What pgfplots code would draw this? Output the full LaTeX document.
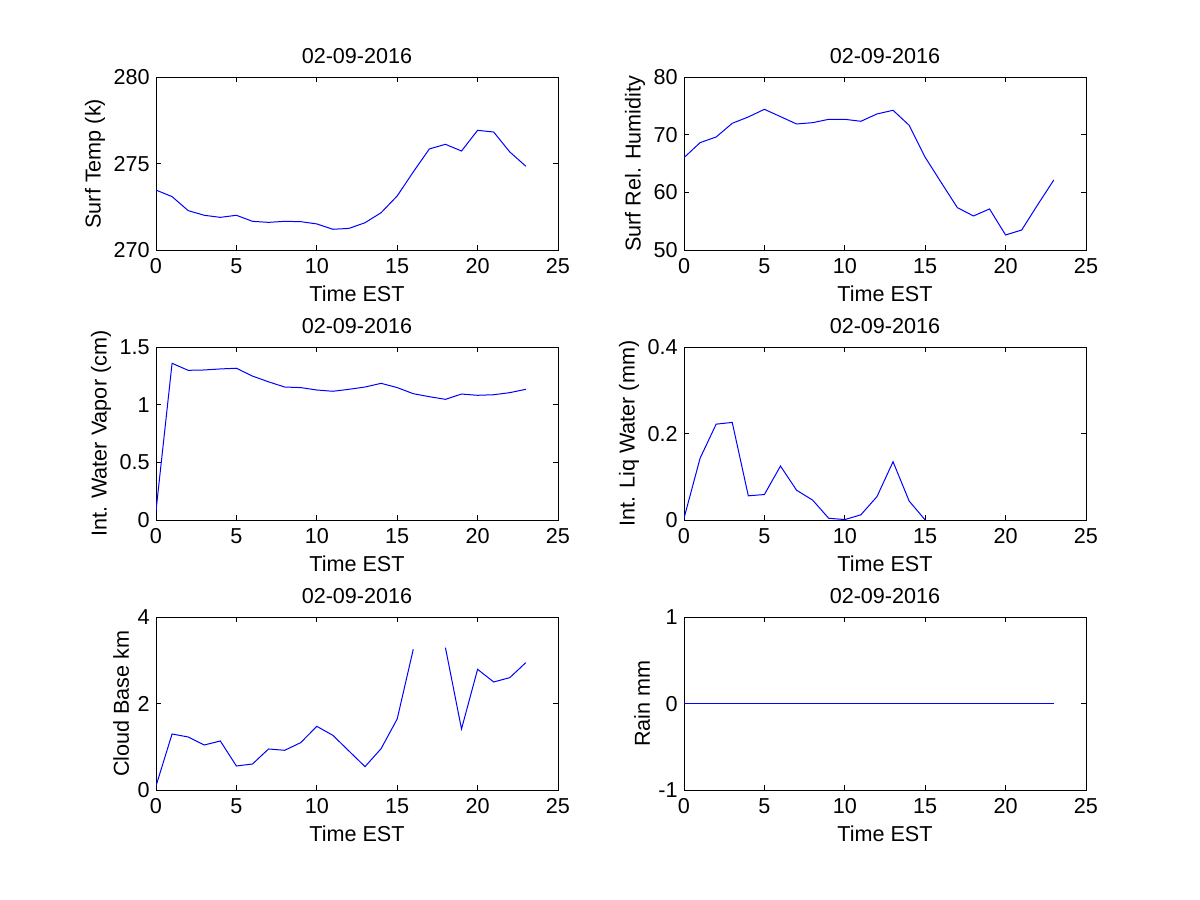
\documentclass[border=0pt]{standalone}
\usepackage{fontspec}
\setmainfont{Liberation Sans}
\usepackage{pgfplots}
\pgfplotsset{compat=1.18}
\pgfplotsset{panel/.style={
  scale only axis, width=201pt, height=86.35pt, anchor=south west,
  xmin=0, xmax=25, xtick={0,5,...,25},
  tick align=inside, major tick length=2.5pt,
  every tick/.style={black, line width=0.4pt},
  axis line style={line width=0.4pt},
  font=\fontsize{10.8}{12}\selectfont,
  /pgf/number format/assume math mode=true,
  /pgf/number format/fixed,
  title={02-09-2016},
  xlabel={Time EST},
  title style={inner sep=0pt, yshift=0.5pt},
  xlabel style={inner sep=0pt, yshift=-4pt},
  ylabel style={inner sep=0pt, yshift=2pt},
  xticklabel style={inner sep=2pt, yshift=-2pt},
  yticklabel style={inner sep=2pt, xshift=-1pt},
  every axis plot/.append style={color=blue, line width=0.5pt, no marks},
}}
\begin{document}
\begin{tikzpicture}
\path[use as bounding box] (0,0) rectangle (600pt,450pt);
% top-left
\begin{axis}[panel, at={(78pt,325pt)}, ymin=270, ymax=280, ytick={270,275,280}, ylabel={Surf Temp (k)}]
\addplot coordinates {(0,273.47)(1,273.09)(2,272.28)(3,272.01)(4,271.89)(5,272.01)(6,271.66)(7,271.60)(8,271.66)(9,271.64)(10,271.51)(11,271.20)(12,271.25)(13,271.58)(14,272.16)(15,273.13)(16,274.52)(17,275.85)(18,276.12)(19,275.73)(20,276.93)(21,276.83)(22,275.68)(23,274.85)};
\end{axis}
% top-right
\begin{axis}[panel, at={(342pt,325pt)}, ymin=50, ymax=80, ytick={50,60,70,80}, ylabel={Surf Rel. Humidity}]
\addplot coordinates {(0,66.04)(1,68.65)(2,69.63)(3,72.01)(4,73.11)(5,74.44)(6,73.17)(7,71.89)(8,72.12)(9,72.70)(10,72.70)(11,72.36)(12,73.63)(13,74.27)(14,71.66)(15,66.10)(16,61.70)(17,57.36)(18,55.91)(19,57.13)(20,52.61)(21,53.47)(22,57.88)(23,62.17)};
\end{axis}
% middle-left
\begin{axis}[panel, at={(78pt,190pt)}, ymin=0, ymax=1.5, ytick={0,0.5,1,1.5}, ylabel={Int. Water Vapor (cm)}]
\addplot coordinates {(0,0.08)(1,1.361)(2,1.300)(3,1.303)(4,1.312)(5,1.318)(6,1.25)(7,1.20)(8,1.155)(9,1.15)(10,1.129)(11,1.118)(12,1.135)(13,1.155)(14,1.187)(15,1.15)(16,1.097)(17,1.071)(18,1.048)(19,1.094)(20,1.083)(21,1.088)(22,1.106)(23,1.135)};
\end{axis}
% middle-right
\begin{axis}[panel, at={(342pt,190pt)}, ymin=0, ymax=0.4, ytick={0,0.2,0.4}, ylabel={Int. Liq Water (mm)}]
\addplot coordinates {(0,0.004)(1,0.143)(2,0.222)(3,0.226)(4,0.056)(5,0.059)(6,0.125)(7,0.069)(8,0.046)(9,0.004)(10,0.001)(11,0.012)(12,0.054)(13,0.135)(14,0.044)(15,0)};
\end{axis}
% bottom-left
\begin{axis}[panel, at={(78pt,55pt)}, ymin=0, ymax=4, ytick={0,2,4}, ylabel={Cloud Base km}, unbounded coords=jump]
\addplot coordinates {(0,0.093)(1,1.297)(2,1.228)(3,1.042)(4,1.135)(5,0.556)(6,0.602)(7,0.950)(8,0.919)(9,1.097)(10,1.475)(11,1.266)(12,0.903)(13,0.541)(14,0.958)(15,1.645)(16,3.259)(17,nan)(18,3.297)(19,1.413)(20,2.795)(21,2.502)(22,2.602)(23,2.950)};
\end{axis}
% bottom-right
\begin{axis}[panel, at={(342pt,55pt)}, ymin=-1, ymax=1, ytick={-1,0,1}, ylabel={Rain mm}]
\addplot[draw=blue, line width=0.6pt] coordinates {(0,0)(1,0)(2,0)(3,0)(4,0)(5,0)(6,0)(7,0)(8,0)(9,0)(10,0)(11,0)(12,0)(13,0)(14,0)(15,0)(16,0)(17,0)(18,0)(19,0)(20,0)(21,0)(22,0)(23,0)};
\end{axis}
\end{tikzpicture}
\end{document}
